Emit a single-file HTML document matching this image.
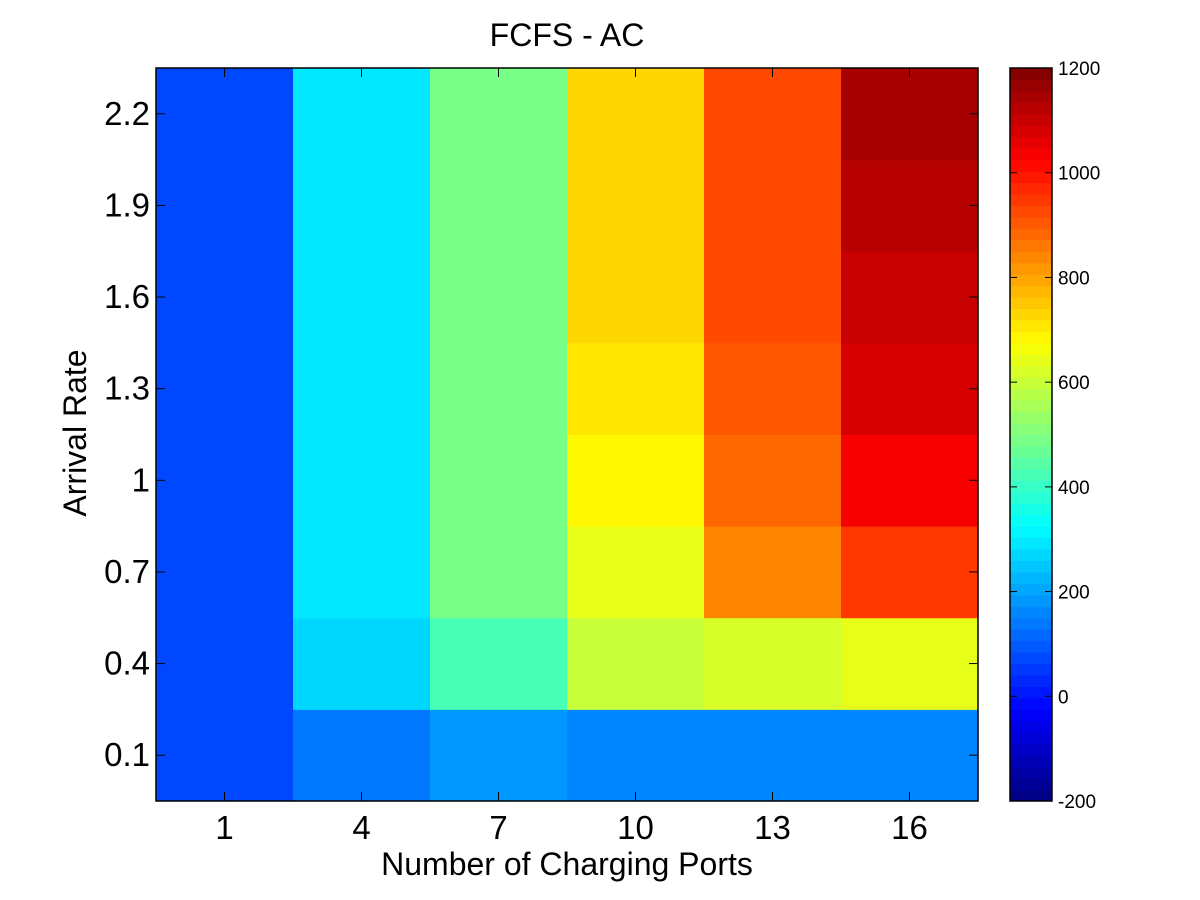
<!DOCTYPE html>
<html><head><meta charset="utf-8"><style>
body{margin:0;background:#fff;}
svg{display:block;font-family:"Liberation Sans",Arial,sans-serif;}
</style></head><body>
<svg id="chart" width="1200" height="900"></svg>
<script>
const xCategories=[1,4,7,10,13,16];
const yCategories=[0.1,0.4,0.7,1.0,1.3,1.6,1.9,2.2];
const yTickLabels=["0.1","0.4","0.7","1","1.3","1.6","1.9","2.2"];
// values[col][row], rows bottom (0.1) to top (2.2)
const col1=[70,70,70,70,70,70,70,70];
const col4=[139,270,292,292,292,292,292,292];
const col7=[183,423,490,490,490,490,490,490];
const col10=[150,598,642,686,708,730,730,730];
const col13=[150,620,840,883,905,927,927,927];
const col16=[150,642,950,1037,1081,1103,1125,1147];
const values=[col1,col4,col7,col10,col13,col16];
const cbTicks=[-200,0,200,400,600,800,1000,1200];
const cMin=-200,cMax=1200;

const NS="http://www.w3.org/2000/svg";
const svg=document.getElementById('chart');
const L=156,R=978,T=68,B=801;
const cw=(R-L)/xCategories.length, rh=(B-T)/yCategories.length;
function xPos(i){return L+cw*i;}
function yPos(j){return B-rh*(j+1);}
function jet(idx){
  const n=64; const t=(idx-0.5)/n;
  function f(x){return Math.max(0,Math.min(1,x));}
  const r=f(1.5-Math.abs(4*t-3)), g=f(1.5-Math.abs(4*t-2)), b=f(1.5-Math.abs(4*t-1));
  return `rgb(${Math.round(r*255)},${Math.round(g*255)},${Math.round(b*255)})`;
}
function colorOf(v){let i=Math.floor((v-cMin)/(cMax-cMin)*64)+1;i=Math.max(1,Math.min(64,i));return jet(i);}
function el(tag,attrs,text){const e=document.createElementNS(NS,tag);for(const k in attrs)e.setAttribute(k,attrs[k]);if(text!==undefined)e.textContent=text;svg.appendChild(e);return e;}

values.forEach((col,i)=>col.forEach((v,j)=>{
  const r=el('rect',{x:xPos(i),y:yPos(j),width:cw+0.5,height:rh+0.5,fill:colorOf(v)});
  
  
}));
const frame=el('rect',{x:L,y:T,width:R-L,height:B-T,fill:'none',stroke:'#000','stroke-width':1.5});


xCategories.forEach((c,i)=>{
  const x=xPos(i)+cw/2;
  el('line',{x1:x,y1:B,x2:x,y2:B-9,stroke:'#000'});
  el('line',{x1:x,y1:T,x2:x,y2:T+9,stroke:'#000'});
  const t=el('text',{x:x,y:839,'font-size':33,'text-anchor':'middle'},String(c));
  
  
});
yCategories.forEach((c,j)=>{
  const y=yPos(j)+rh/2;
  el('line',{x1:L,y1:y,x2:L+9,y2:y,stroke:'#000'});
  el('line',{x1:R,y1:y,x2:R-9,y2:y,stroke:'#000'});
  const t=el('text',{x:150,y:y+11,'font-size':33,'text-anchor':'end'},yTickLabels[j]);
  
  
});
const CL=1010,CR=1052;
for(let i=1;i<=64;i++){
  const y0=B-(B-T)*i/64;
  const r=el('rect',{x:CL,y:y0,width:CR-CL,height:(B-T)/64+0.5,fill:jet(i)});
  
  
}
const cbf=el('rect',{x:CL,y:T,width:CR-CL,height:B-T,fill:'none',stroke:'#000','stroke-width':1.5});


cbTicks.forEach(v=>{
  const y=B-(v-cMin)/(cMax-cMin)*(B-T);
  el('line',{x1:CL,y1:y,x2:CL+7,y2:y,stroke:'#000'});
  el('line',{x1:CR,y1:y,x2:CR-7,y2:y,stroke:'#000'});
  const t=el('text',{x:CR+6,y:y+7,'font-size':19},String(v));
  
  
});
const title=el('text',{x:567,y:46,'font-size':32,'text-anchor':'middle'},'FCFS - AC');


const xt=el('text',{x:567,y:875,'font-size':32,'text-anchor':'middle'},'Number of Charging Ports');


const yt=el('text',{x:0,y:0,'font-size':32,'text-anchor':'middle',transform:'translate(86,433) rotate(-90)'},'Arrival Rate');


</script>
</body></html>
